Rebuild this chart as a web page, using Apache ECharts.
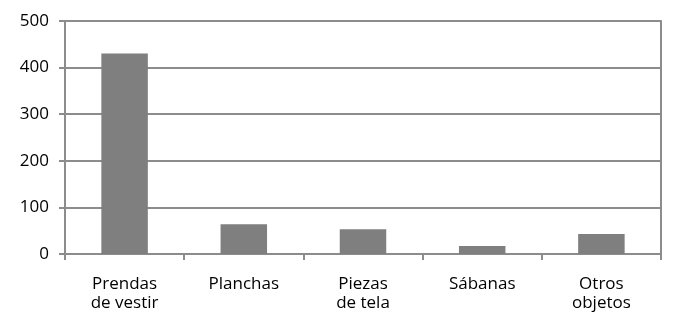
<!DOCTYPE html>
<html><head><meta charset="utf-8">
<script src="https://cdn.jsdelivr.net/npm/echarts@6/dist/echarts.min.js"></script>
<style>html,body{margin:0;padding:0;background:#fff}#c{width:690px;height:326px}</style>
</head><body><div id="c"></div>
<script>
const categories = ["Prendas\nde vestir", "Planchas", "Piezas\nde tela", "Sábanas", "Otros\nobjetos"];
const values = [430, 64, 53, 17, 43];
const yTicks = [0, 100, 200, 300, 400, 500];

const chart = echarts.init(document.getElementById('c'), null, {renderer: 'canvas'});
const lineColor = '#8c8c8c';
const font = 'Open Sans';
chart.setOption({
  animation: false,
  grid: {left: 65, right: 29, top: 21, bottom: 72},
  xAxis: {
    type: 'category', data: categories, boundaryGap: true,
    axisLine: {show: true, lineStyle: {color: lineColor, width: 2}},
    axisTick: {show: true, length: 6, alignWithLabel: false, lineStyle: {color: lineColor, width: 2}},
    axisLabel: {color: '#000', fontFamily: font, fontSize: 17, lineHeight: 19, margin: 21, interval: 0}
  },
  yAxis: [{
    type: 'value', min: yTicks[0], max: yTicks[yTicks.length-1], interval: 100,
    axisLine: {show: true, lineStyle: {color: lineColor, width: 2}},
    axisTick: {show: true, length: 6, lineStyle: {color: lineColor, width: 2}},
    splitLine: {show: true, lineStyle: {color: lineColor, width: 2}},
    axisLabel: {color: '#000', fontFamily: font, fontSize: 17, margin: 16}
  }, {
    type: 'value', position: 'right', min: yTicks[0], max: yTicks[yTicks.length-1], interval: 100,
    axisLine: {show: true, lineStyle: {color: lineColor, width: 2}},
    axisTick: {show: false}, axisLabel: {show: false}, splitLine: {show: false}
  }],
  series: [{
    type: 'bar', data: values, barWidth: '39%',
    itemStyle: {color: '#7f7f7f'}
  }]
});
</script></body></html>
